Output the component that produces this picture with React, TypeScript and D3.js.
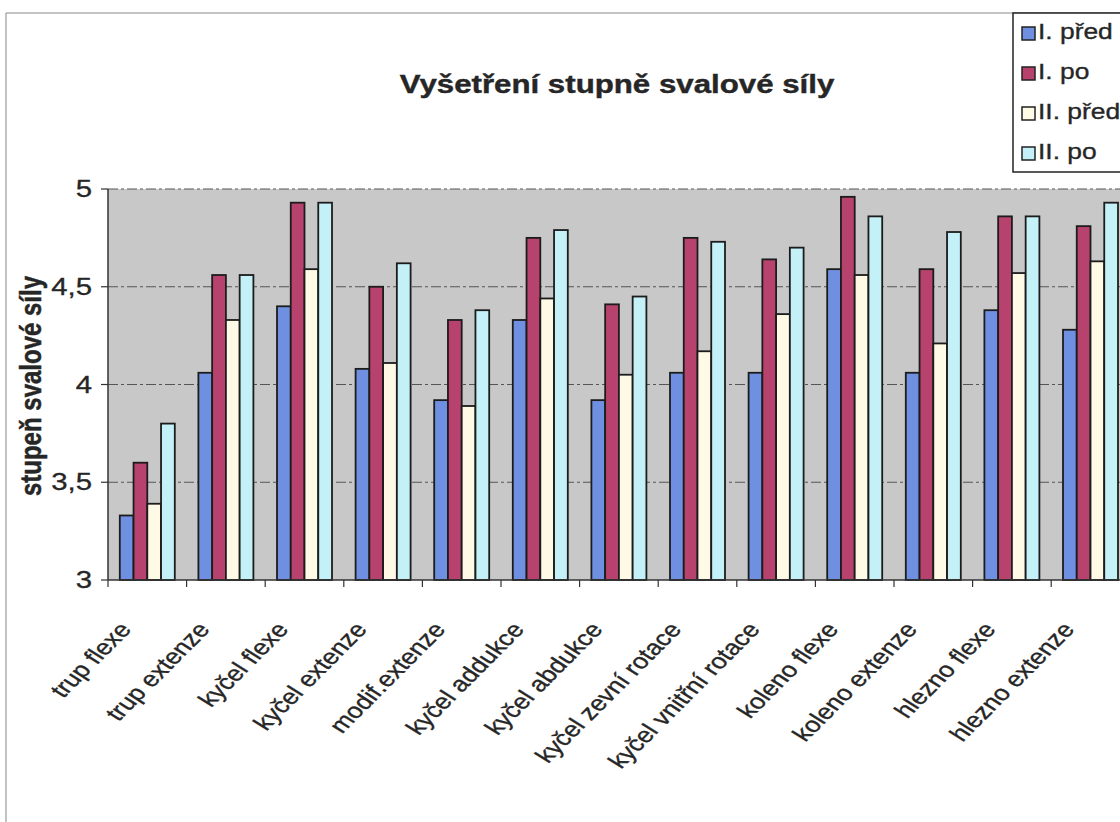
import React from "react";
import * as d3 from "d3";

const categories = [
  "trup flexe",
  "trup extenze",
  "kyčel flexe",
  "kyčel extenze",
  "modif.extenze",
  "kyčel addukce",
  "kyčel abdukce",
  "kyčel zevní rotace",
  "kyčel vnitřní rotace",
  "koleno flexe",
  "koleno extenze",
  "hlezno flexe",
  "hlezno extenze",
];

const seriesNames = ["I. před", "I. po", "II. před", "II. po"];

const iPred = [3.33, 4.06, 4.4, 4.08, 3.92, 4.33, 3.92, 4.06, 4.06, 4.59, 4.06, 4.38, 4.28];
const iPo = [3.6, 4.56, 4.93, 4.5, 4.33, 4.75, 4.41, 4.75, 4.64, 4.96, 4.59, 4.86, 4.81];
const iiPred = [3.39, 4.33, 4.59, 4.11, 3.89, 4.44, 4.05, 4.17, 4.36, 4.56, 4.21, 4.57, 4.63];
const iiPo = [3.8, 4.56, 4.93, 4.62, 4.38, 4.79, 4.45, 4.73, 4.7, 4.86, 4.78, 4.86, 4.93];

const yTicks = [3, 3.5, 4, 4.5, 5];

const colors = ["#6f8fe0", "#b8426e", "#fffae6", "#c4f0f8"];

const W = 1120;
const H = 822;
const plot = { left: 108, top: 189, bottom: 580, catW: 78.6 };
const SX = 1.25; // scan is stretched sideways
const font = "Arial, 'Liberation Sans', Helvetica, sans-serif";
const ink = "#262626";

export default function App() {
  const values = [iPred, iPo, iiPred, iiPo];
  const right = plot.left + categories.length * plot.catW;

  const x0 = d3.scaleBand<string>().domain(categories).range([plot.left, right]).padding(0);
  const bw = x0.bandwidth();
  const x1 = d3
    .scaleBand<string>()
    .domain(seriesNames)
    .range([11.8, bw - 11.8])
    .padding(0);
  const y = d3.scaleLinear().domain([3, 5]).range([plot.bottom, plot.top]);

  const fmt = (v: number) => String(v).replace(".", ",");

  return (
    <svg width={W} height={H} style={{ position: "absolute", left: 0, top: 0, background: "#fff" }} fontFamily={font}>
      {/* chart area frame */}
      <line x1={6} x2={W} y1={13} y2={13} stroke="#8a8a8a" strokeWidth={1.2} />
      <line x1={6} x2={6} y1={13} y2={H} stroke="#9a9a9a" strokeWidth={1.2} />

      {/* title */}
      <text
        transform={`translate(617,93) scale(${SX},1)`}
        textAnchor="middle"
        fontSize={25}
        fontWeight="bold"
        fill={ink}
        stroke={ink}
        strokeWidth={0.4}
      >
        Vyšetření stupně svalové síly
      </text>

      {/* plot background */}
      <rect x={plot.left} y={plot.top} width={right - plot.left} height={plot.bottom - plot.top} fill="#c8c8c8" />

      {/* gridlines */}
      {yTicks.slice(1).map((t) => (
        <line
          key={t}
          x1={plot.left}
          x2={right}
          y1={y(t)}
          y2={y(t)}
          stroke="#555"
          strokeWidth={1}
          strokeDasharray="10 3 3 3"
        />
      ))}

      {/* bars */}
      {values.map((vals, si) =>
        vals.map((v, ci) => (
          <rect
            key={`${si}-${ci}`}
            x={(x0(categories[ci]) as number) + (x1(seriesNames[si]) as number)}
            y={y(v)}
            width={x1.bandwidth()}
            height={y(3) - y(v)}
            fill={colors[si]}
            stroke="#1c1c1c"
            strokeWidth={1.8}
          />
        ))
      )}

      {/* axes */}
      <line x1={plot.left} x2={plot.left} y1={plot.top} y2={plot.bottom} stroke="#333" strokeWidth={1.5} />
      <line x1={plot.left} x2={right} y1={plot.bottom} y2={plot.bottom} stroke="#333" strokeWidth={1.5} />
      {yTicks.map((t) => (
        <g key={t}>
          <line x1={plot.left - 7} x2={plot.left} y1={y(t)} y2={y(t)} stroke="#333" strokeWidth={1.2} />
          <text
            transform={`translate(92,${y(t) + 8}) scale(${SX},1)`}
            textAnchor="end"
            fontSize={23.5}
            fill={ink}
            stroke={ink}
            strokeWidth={0.3}
          >
            {fmt(t)}
          </text>
        </g>
      ))}
      {categories.map((c) => (
        <line
          key={c}
          x1={x0(c) as number}
          x2={x0(c) as number}
          y1={plot.bottom}
          y2={plot.bottom + 7}
          stroke="#333"
          strokeWidth={1.2}
        />
      ))}

      {/* category labels */}
      {categories.map((c) => {
        const cx = (x0(c) as number) + bw / 2;
        return (
          <text
            key={c}
            transform={`translate(${cx - 15},630) scale(${SX},1) rotate(-51.3)`}
            textAnchor="end"
            fontSize={21.5}
            fill={ink}
            stroke={ink}
            strokeWidth={0.35}
          >
            {c}
          </text>
        );
      })}

      {/* y axis title */}
      <text
        transform={`translate(41,386) scale(${SX},1) rotate(-90)`}
        textAnchor="middle"
        fontSize={24}
        fontWeight="bold"
        fill={ink}
        stroke={ink}
        strokeWidth={0.4}
      >
        stupeň svalové síly
      </text>

      {/* legend */}
      <rect x={1013} y={13} width={120} height={159} fill="#fff" stroke="#222" strokeWidth={1.5} />
      {seriesNames.map((s, i) => (
        <g key={s} transform={`translate(1022,${27 + i * 40})`}>
          <rect width={13} height={13} fill={colors[i]} stroke="#222" strokeWidth={1.5} />
          <text
            transform={`translate(16,12) scale(1.2,1)`}
            fontSize={22}
            fill={ink}
            stroke={ink}
            strokeWidth={0.35}
          >
            {s}
          </text>
        </g>
      ))}
    </svg>
  );
}
